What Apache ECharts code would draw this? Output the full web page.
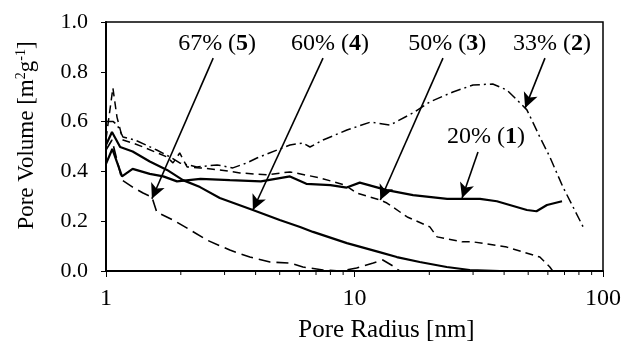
<!DOCTYPE html>
<html>
<head>
<meta charset="utf-8">
<script src="https://cdn.jsdelivr.net/npm/echarts@6/dist/echarts.min.js"></script>
<style>
  html, body { margin: 0; padding: 0; background: #fff; }
  #chart { width: 624px; height: 352px; }
</style>
</head>
<body>
<div id="chart"></div>
<script>
// Pore size distributions: pore radius (nm) and pore volume for each sample
const radius1 = [1.0, 1.06, 1.16, 1.28, 1.5, 1.7, 1.93, 2.4, 3.15, 4.2, 5.5, 6.4, 8.0, 9.3, 10.5, 13.5, 17.2, 23.6, 32, 37.4, 49.4, 54, 59.5, 68.4];
const volume1 = [0.43, 0.49, 0.38, 0.41, 0.39, 0.38, 0.36, 0.37, 0.365, 0.36, 0.38, 0.35, 0.345, 0.335, 0.355, 0.325, 0.305, 0.29, 0.29, 0.28, 0.245, 0.24, 0.265, 0.28];

const radius2 = [1.0, 1.07, 1.11, 1.17, 1.31, 1.6, 1.81, 1.98, 2.32, 2.8, 3.24, 3.69, 4.05, 4.88, 5.5, 6.2, 6.62, 7.47, 9.32, 11.6, 13.9, 17.2, 20.1, 24.9, 30.0, 36.0, 41.0, 45.1, 49.4, 52.4, 55.7, 61.1, 69.0, 75.8, 83.2];
const volume2 = [0.6, 0.6, 0.586, 0.538, 0.526, 0.486, 0.458, 0.434, 0.418, 0.426, 0.414, 0.434, 0.454, 0.486, 0.506, 0.514, 0.498, 0.526, 0.566, 0.598, 0.586, 0.635, 0.679, 0.719, 0.747, 0.751, 0.727, 0.687, 0.647, 0.594, 0.538, 0.458, 0.337, 0.257, 0.177];

const radius3 = [1.0, 1.066, 1.107, 1.17, 1.28, 1.41, 1.76, 1.86, 1.98, 2.12, 2.39, 2.87, 3.46, 4.44, 5.5, 7.26, 9.16, 10.2, 12.7, 13.5, 16.3, 20.1, 21.5, 27.3, 30.0, 41.0, 55.7, 61.1, 62.8];
const volume3 = [0.53, 0.735, 0.618, 0.526, 0.514, 0.498, 0.458, 0.434, 0.474, 0.418, 0.414, 0.406, 0.394, 0.386, 0.398, 0.374, 0.345, 0.313, 0.285, 0.273, 0.217, 0.177, 0.137, 0.117, 0.117, 0.096, 0.056, 0.016, 0.0];

const radius4 = [1.0, 1.057, 1.14, 1.28, 1.5, 1.76, 2.04, 2.39, 2.87, 3.9, 5.0, 6.04, 6.81, 9.32, 12.6, 14.8, 18.3, 23.5, 29.1, 38.5];
const volume4 = [0.506, 0.558, 0.498, 0.48, 0.44, 0.406, 0.365, 0.337, 0.293, 0.245, 0.205, 0.177, 0.157, 0.112, 0.076, 0.056, 0.036, 0.016, 0.004, 0.0];

const radius5 = [1.0, 1.057, 1.16, 1.28, 1.41, 1.53, 1.6, 1.86, 2.18, 2.55, 3.15, 3.79, 4.57, 5.5, 6.2, 7.47, 8.75, 10.2, 11.9, 13.0, 14.3, 15.2];
const volume5 = [0.486, 0.526, 0.365, 0.337, 0.313, 0.297, 0.237, 0.205, 0.165, 0.124, 0.084, 0.056, 0.036, 0.032, 0.016, 0.004, 0.0, 0.012, 0.032, 0.044, 0.02, 0.0];

// Sample annotations: porosity text, sample number, label anchor, arrow tail and arrow head
const porosityText = ['20%', '33%', '50%', '60%', '67%'];
const sampleNumber = ['1', '2', '3', '4', '5'];
const labelAt   = [[33.8, 0.538], [62.3, 0.912], [23.6, 0.912], [7.97, 0.912], [2.80, 0.912]];
const arrowFrom = [[31.4, 0.478], [58.4, 0.855], [22.7, 0.855], [7.47, 0.855], [2.70, 0.855]];
const arrowTo   = [[27.1, 0.293], [48.6, 0.655], [12.7, 0.285], [3.9, 0.245], [1.53, 0.29]];

// Axis ticks
const volumeTicks = [0.0, 0.2, 0.4, 0.6, 0.8, 1.0];
const minorRadii = [2, 3, 4, 5, 6, 7, 8, 9, 20, 30, 40, 50, 60, 70, 80, 90];

const FONT = 'Liberation Serif';
const zip = (xs, ys) => xs.map((x, i) => [x, ys[i]]);

const curves = [
  { x: radius1, y: volume1, dash: 'solid', width: 2.2 },
  { x: radius2, y: volume2, dash: [10, 4, 2, 4], width: 1.5 },
  { x: radius3, y: volume3, dash: [8, 5], width: 1.5 },
  { x: radius4, y: volume4, dash: 'solid', width: 2.2 },
  { x: radius5, y: volume5, dash: [12, 6], width: 1.6 }
];

const lineSeries = curves.map((c, i) => ({
  type: 'line',
  name: porosityText[i],
  data: zip(c.x, c.y),
  showSymbol: false,
  symbol: 'none',
  smooth: false,
  z: 3,
  lineStyle: { color: '#000', width: c.width, type: c.dash },
  markLine: {
    silent: true,
    symbol: ['none', 'arrow'],
    symbolSize: [11, 15],
    label: { show: false },
    lineStyle: { color: '#000', width: 1.6, type: 'solid' },
    data: [[{ coord: arrowFrom[i] }, { coord: arrowTo[i] }]]
  }
}));

const labelSeries = {
  type: 'scatter',
  silent: true,
  symbolSize: 0,
  z: 5,
  itemStyle: { opacity: 1 },
  data: labelAt.map((p, i) => ({ value: p, txt: porosityText[i], num: sampleNumber[i] })),
  label: {
    show: true,
    position: 'inside',
    color: '#000',
    opacity: 1,
    formatter: (p) => '{n|' + p.data.txt + ' (}{b|' + p.data.num + '}{n|)}',
    rich: {
      n: { fontFamily: FONT, fontSize: 24, color: '#000' },
      b: { fontFamily: FONT, fontSize: 24, fontWeight: 'bold', color: '#000' }
    }
  }
};

// Minor ticks on the logarithmic radius axis
const minorTickSeries = {
  type: 'custom',
  silent: true,
  clip: false,
  data: minorRadii.map(r => [r, 0]),
  renderItem: (params, api) => {
    const p = api.coord([api.value(0), 0]);
    return {
      type: 'line',
      shape: { x1: p[0], y1: p[1], x2: p[0], y2: p[1] + 4 },
      style: { stroke: '#000', lineWidth: 1 }
    };
  }
};

const chart = echarts.init(document.getElementById('chart'), null, { renderer: 'canvas' });
chart.setOption({
  animation: false,
  backgroundColor: '#fff',
  grid: { left: 106, right: 21, top: 22, bottom: 81, show: true, borderColor: '#000', borderWidth: 1.5, backgroundColor: 'transparent' },
  xAxis: {
    type: 'log',
    logBase: 10,
    min: 1,
    max: 100,
    name: 'Pore Radius [nm]',
    nameLocation: 'middle',
    nameGap: 47,
    nameTextStyle: { fontFamily: FONT, fontSize: 25, color: '#000', padding: [0, 0, 0, 64] },
    axisLine: { lineStyle: { color: '#000', width: 2 } },
    axisTick: { inside: false, length: 6, lineStyle: { color: '#000', width: 1 } },
    minorTick: { show: false },
    splitLine: { show: false },
    axisLabel: { fontFamily: FONT, fontSize: 24, color: '#000', margin: 16 }
  },
  yAxis: {
    type: 'value',
    min: volumeTicks[0],
    max: volumeTicks[volumeTicks.length - 1],
    interval: 0.2,
    name: '{n|Pore Volume [m}{s|2}{n|g}{s|-1}{n|]}',
    nameLocation: 'middle',
    nameRotate: 90,
    nameGap: 66,
    nameTextStyle: {
      padding: [0, 0, 0, 22],
      rich: {
        n: { fontFamily: FONT, fontSize: 23, color: '#000', lineHeight: 26 },
        s: { fontFamily: FONT, fontSize: 14, color: '#000', verticalAlign: 'top', lineHeight: 26 }
      }
    },
    axisLine: { show: true, lineStyle: { color: '#000', width: 2 } },
    axisTick: { show: true, inside: false, length: 5, lineStyle: { color: '#000', width: 1 } },
    splitLine: { show: false },
    axisLabel: { fontFamily: FONT, fontSize: 22, color: '#000', margin: 18, formatter: v => v.toFixed(1) }
  },
  series: [...lineSeries, labelSeries, minorTickSeries]
});
</script>
</body>
</html>
